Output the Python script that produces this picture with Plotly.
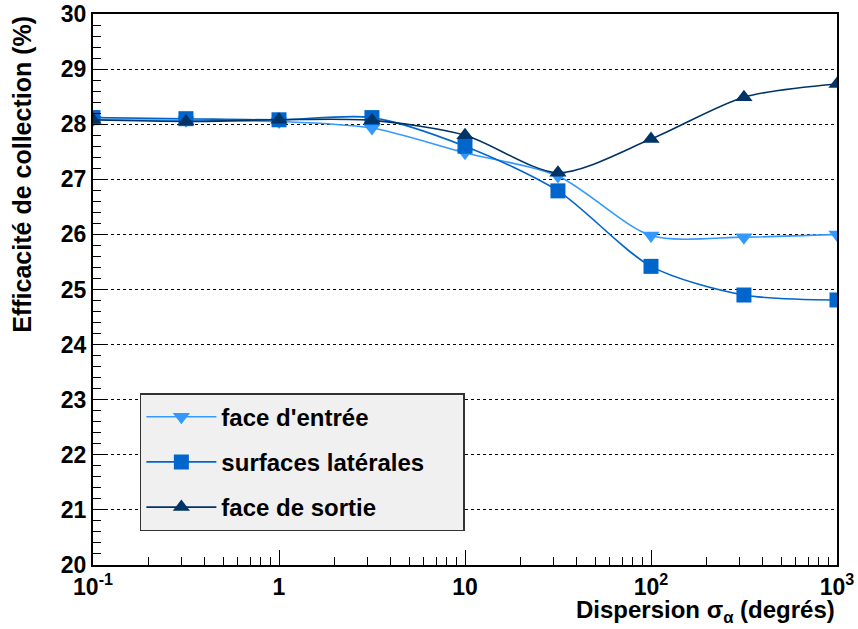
import plotly.graph_objects as go

x_vals = [0.1, 0.316, 1, 3.16, 10, 31.6, 100, 316, 1000]
entree = [28.08, 28.07, 28.05, 27.93, 27.48, 27.06, 25.98, 25.95, 26.0]
laterales = [28.12, 28.10, 28.08, 28.12, 27.6, 26.79, 25.42, 24.9, 24.81]
sortie = [28.08, 28.05, 28.08, 28.07, 27.8, 27.12, 27.73, 28.49, 28.73]

series_names = ["face d'entrée", "surfaces latérales\u00a0\u00a0\u00a0\u00a0\u00a0", "face de sortie"]
colors = ["#3399ff", "#0066cc", "#003366"]
symbols = ["triangle-down", "square", "triangle-up"]

x_major = [0.1, 1, 10, 100, 1000]
x_major_text = ["10<sup>-1</sup>", "1", "10", "10<sup>2</sup>", "10<sup>3</sup>"]
x_minor = [m * d for d in [0.1, 1, 10, 100] for m in range(2, 10)]

FONT = "Liberation Sans, Arial, sans-serif"

fig = go.Figure()
for i, (name, ys) in enumerate(zip(series_names, [entree, laterales, sortie])):
    fig.add_trace(go.Scatter(
        x=x_vals, y=ys, name=name, mode="lines+markers",
        line=dict(color=colors[i], width=1.6, shape="spline", smoothing=0.8),
        marker=dict(symbol=symbols[i], size=15, color=colors[i], line=dict(width=0)),
        legendgroup=f"g{i}",
    ))

fig.update_layout(
    width=858, height=629,
    margin=dict(l=93, r=21, t=14, b=64, autoexpand=False),
    paper_bgcolor="white", plot_bgcolor="white",
    font=dict(family=FONT, color="black"),
    showlegend=True,
    legend=dict(
        x=0.063, y=0.312, xanchor="left", yanchor="top",
        bgcolor="#f0f0f0", bordercolor="#333333", borderwidth=1.5,
        font=dict(family=FONT, size=24, color="black", weight="bold"),
        tracegroupgap=11, itemwidth=70,
    ),
    xaxis=dict(
        type="log", range=[-1, 3], automargin=False,
        tickmode="array", tickvals=x_major, ticktext=x_major_text,
        ticks="inside", ticklen=15, tickwidth=1, tickcolor="black",
        minor=dict(tickmode="array", tickvals=x_minor, ticks="inside", ticklen=8, tickcolor="black", showgrid=False),
        showgrid=False, zeroline=False,
        showline=True, linecolor="black", linewidth=2, mirror=True,
        tickfont=dict(family=FONT, size=23, color="black", weight="bold"),
    ),
    yaxis=dict(
        range=[20, 30], dtick=1, tick0=20, automargin=False,
        ticks="inside", ticklen=15, tickwidth=1, tickcolor="black",
        minor=dict(dtick=0.2, ticks="inside", ticklen=8, tickcolor="black", showgrid=False),
        showgrid=True, gridcolor="black", griddash="dot", gridwidth=1,
        zeroline=False,
        showline=True, linecolor="black", linewidth=2, mirror=True,
        tickfont=dict(family=FONT, size=23, color="black", weight="bold"),
    ),
    annotations=[
        dict(text="Dispersion σ<sub>α</sub> (degrés)", xref="paper", yref="paper",
             x=1.0, y=-0.052, xanchor="right", yanchor="top", showarrow=False,
             font=dict(family=FONT, size=24, color="black", weight="bold")),
        dict(text="Efficacité de collection (%)", xref="paper", yref="paper",
             x=-0.118, y=1.0, xanchor="left", yanchor="top", textangle=-90, showarrow=False,
             font=dict(family=FONT, size=25, color="black", weight="bold")),
    ],
)

fig.write_html("out.html", config={"displayModeBar": False},
               post_script="document.body.style.margin='0';")
